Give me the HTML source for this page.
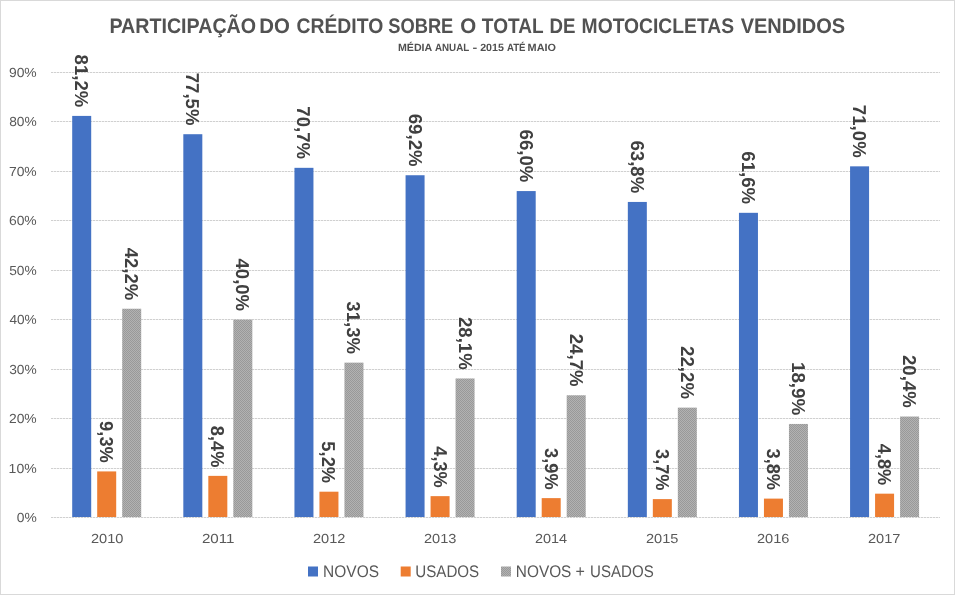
<!DOCTYPE html><html><head><meta charset="utf-8"><title>chart</title><style>
html,body{margin:0;padding:0;background:#fff;}body{width:955px;height:595px;overflow:hidden;}svg{display:block;font-family:"Liberation Sans",sans-serif;text-rendering:geometricPrecision;will-change:transform;}
</style></head><body>
<svg width="955" height="595" viewBox="0 0 955 595">
<defs><pattern id="chk" width="2" height="2" patternUnits="userSpaceOnUse"><rect width="2" height="2" fill="#b2b2b2"/><rect width="1" height="1" fill="#999"/><rect x="1" y="1" width="1" height="1" fill="#999"/></pattern></defs>
<rect x="0" y="0" width="955" height="595" fill="#fff"/>
<rect x="0.5" y="0.5" width="954" height="594" fill="none" stroke="#d9d9d9" stroke-width="1"/>
<rect x="51.0" y="517" width="889.0" height="1" fill="#f0f0f0"/>
<line x1="51.0" x2="940.0" y1="517.5" y2="517.5" stroke="#d0d0d0" stroke-width="1" stroke-dasharray="2 1" shape-rendering="crispEdges"/>
<rect x="51.0" y="468" width="889.0" height="1" fill="#f0f0f0"/>
<line x1="51.0" x2="940.0" y1="468.5" y2="468.5" stroke="#d0d0d0" stroke-width="1" stroke-dasharray="2 1" shape-rendering="crispEdges"/>
<rect x="51.0" y="418" width="889.0" height="1" fill="#f0f0f0"/>
<line x1="51.0" x2="940.0" y1="418.5" y2="418.5" stroke="#d0d0d0" stroke-width="1" stroke-dasharray="2 1" shape-rendering="crispEdges"/>
<rect x="51.0" y="369" width="889.0" height="1" fill="#f0f0f0"/>
<line x1="51.0" x2="940.0" y1="369.5" y2="369.5" stroke="#d0d0d0" stroke-width="1" stroke-dasharray="2 1" shape-rendering="crispEdges"/>
<rect x="51.0" y="319" width="889.0" height="1" fill="#f0f0f0"/>
<line x1="51.0" x2="940.0" y1="319.5" y2="319.5" stroke="#d0d0d0" stroke-width="1" stroke-dasharray="2 1" shape-rendering="crispEdges"/>
<rect x="51.0" y="270" width="889.0" height="1" fill="#f0f0f0"/>
<line x1="51.0" x2="940.0" y1="270.5" y2="270.5" stroke="#d0d0d0" stroke-width="1" stroke-dasharray="2 1" shape-rendering="crispEdges"/>
<rect x="51.0" y="220" width="889.0" height="1" fill="#f0f0f0"/>
<line x1="51.0" x2="940.0" y1="220.5" y2="220.5" stroke="#d0d0d0" stroke-width="1" stroke-dasharray="2 1" shape-rendering="crispEdges"/>
<rect x="51.0" y="171" width="889.0" height="1" fill="#f0f0f0"/>
<line x1="51.0" x2="940.0" y1="171.5" y2="171.5" stroke="#d0d0d0" stroke-width="1" stroke-dasharray="2 1" shape-rendering="crispEdges"/>
<rect x="51.0" y="121" width="889.0" height="1" fill="#f0f0f0"/>
<line x1="51.0" x2="940.0" y1="121.5" y2="121.5" stroke="#d0d0d0" stroke-width="1" stroke-dasharray="2 1" shape-rendering="crispEdges"/>
<rect x="51.0" y="72" width="889.0" height="1" fill="#f0f0f0"/>
<line x1="51.0" x2="940.0" y1="72.5" y2="72.5" stroke="#d0d0d0" stroke-width="1" stroke-dasharray="2 1" shape-rendering="crispEdges"/>
<rect x="72.20" y="115.91" width="19.0" height="401.09" fill="#4472c4"/>
<rect x="97.20" y="471.42" width="19.0" height="45.58" fill="#ed7d31"/>
<rect x="122.20" y="308.74" width="19.0" height="208.26" fill="url(#chk)"/>
<rect x="183.32" y="134.21" width="19.0" height="382.79" fill="#4472c4"/>
<rect x="208.32" y="475.87" width="19.0" height="41.13" fill="#ed7d31"/>
<rect x="233.32" y="319.62" width="19.0" height="197.38" fill="url(#chk)"/>
<rect x="294.45" y="167.83" width="19.0" height="349.17" fill="#4472c4"/>
<rect x="319.45" y="491.69" width="19.0" height="25.31" fill="#ed7d31"/>
<rect x="344.45" y="362.64" width="19.0" height="154.36" fill="url(#chk)"/>
<rect x="405.57" y="175.24" width="19.0" height="341.76" fill="#4472c4"/>
<rect x="430.57" y="496.14" width="19.0" height="20.86" fill="#ed7d31"/>
<rect x="455.57" y="378.46" width="19.0" height="138.54" fill="url(#chk)"/>
<rect x="516.70" y="191.07" width="19.0" height="325.93" fill="#4472c4"/>
<rect x="541.70" y="498.12" width="19.0" height="18.88" fill="#ed7d31"/>
<rect x="566.70" y="395.27" width="19.0" height="121.73" fill="url(#chk)"/>
<rect x="627.83" y="201.94" width="19.0" height="315.06" fill="#4472c4"/>
<rect x="652.83" y="499.11" width="19.0" height="17.89" fill="#ed7d31"/>
<rect x="677.83" y="407.63" width="19.0" height="109.37" fill="url(#chk)"/>
<rect x="738.95" y="212.82" width="19.0" height="304.18" fill="#4472c4"/>
<rect x="763.95" y="498.61" width="19.0" height="18.39" fill="#ed7d31"/>
<rect x="788.95" y="423.95" width="19.0" height="93.05" fill="url(#chk)"/>
<rect x="850.08" y="166.34" width="19.0" height="350.66" fill="#4472c4"/>
<rect x="875.08" y="493.67" width="19.0" height="23.33" fill="#ed7d31"/>
<rect x="900.08" y="416.53" width="19.0" height="100.47" fill="url(#chk)"/>
<text x="109.40" y="32.90" font-size="21.0" font-weight="bold" fill="#525252" textLength="146.73" lengthAdjust="spacingAndGlyphs">PARTICIPAÇÃO</text>
<text x="259.34" y="32.90" font-size="21.0" font-weight="bold" fill="#525252" textLength="30.58" lengthAdjust="spacingAndGlyphs">DO</text>
<text x="296.41" y="32.90" font-size="21.0" font-weight="bold" fill="#525252" textLength="86.80" lengthAdjust="spacingAndGlyphs">CRÉDITO</text>
<text x="388.25" y="32.90" font-size="21.0" font-weight="bold" fill="#525252" textLength="65.07" lengthAdjust="spacingAndGlyphs">SOBRE</text>
<text x="460.17" y="32.90" font-size="21.0" font-weight="bold" fill="#525252" textLength="15.96" lengthAdjust="spacingAndGlyphs">O</text>
<text x="481.87" y="32.90" font-size="21.0" font-weight="bold" fill="#525252" textLength="61.65" lengthAdjust="spacingAndGlyphs">TOTAL</text>
<text x="549.47" y="32.90" font-size="21.0" font-weight="bold" fill="#525252" textLength="25.97" lengthAdjust="spacingAndGlyphs">DE</text>
<text x="581.62" y="32.90" font-size="21.0" font-weight="bold" fill="#525252" textLength="152.42" lengthAdjust="spacingAndGlyphs">MOTOCICLETAS</text>
<text x="740.66" y="32.90" font-size="21.0" font-weight="bold" fill="#525252" textLength="104.53" lengthAdjust="spacingAndGlyphs">VENDIDOS</text>
<text x="397.94" y="51.10" font-size="10.5" font-weight="bold" fill="#505050" textLength="34.31" lengthAdjust="spacingAndGlyphs">MÉDIA</text>
<text x="434.97" y="51.10" font-size="10.5" font-weight="bold" fill="#505050" textLength="34.27" lengthAdjust="spacingAndGlyphs">ANUAL</text>
<text x="472.62" y="51.10" font-size="10.5" font-weight="bold" fill="#505050" textLength="4.76" lengthAdjust="spacingAndGlyphs">-</text>
<text x="480.15" y="51.10" font-size="10.5" font-weight="bold" fill="#505050" textLength="23.72" lengthAdjust="spacingAndGlyphs">2015</text>
<text x="506.97" y="51.10" font-size="10.5" font-weight="bold" fill="#505050" textLength="18.57" lengthAdjust="spacingAndGlyphs">ATÉ</text>
<text x="527.62" y="51.10" font-size="10.5" font-weight="bold" fill="#505050" textLength="28.41" lengthAdjust="spacingAndGlyphs">MAIO</text>
<text x="16.88" y="522.20" font-size="13.2" font-weight="normal" fill="#595959" textLength="20.02" lengthAdjust="spacingAndGlyphs">0%</text>
<text x="8.64" y="473.20" font-size="13.2" font-weight="normal" fill="#595959" textLength="28.10" lengthAdjust="spacingAndGlyphs">10%</text>
<text x="8.91" y="423.20" font-size="13.2" font-weight="normal" fill="#595959" textLength="27.82" lengthAdjust="spacingAndGlyphs">20%</text>
<text x="9.18" y="374.20" font-size="13.2" font-weight="normal" fill="#595959" textLength="27.55" lengthAdjust="spacingAndGlyphs">30%</text>
<text x="9.44" y="324.20" font-size="13.2" font-weight="normal" fill="#595959" textLength="27.28" lengthAdjust="spacingAndGlyphs">40%</text>
<text x="9.18" y="275.20" font-size="13.2" font-weight="normal" fill="#595959" textLength="27.55" lengthAdjust="spacingAndGlyphs">50%</text>
<text x="8.91" y="225.20" font-size="13.2" font-weight="normal" fill="#595959" textLength="27.82" lengthAdjust="spacingAndGlyphs">60%</text>
<text x="8.91" y="176.20" font-size="13.2" font-weight="normal" fill="#595959" textLength="27.82" lengthAdjust="spacingAndGlyphs">70%</text>
<text x="9.18" y="126.20" font-size="13.2" font-weight="normal" fill="#595959" textLength="27.55" lengthAdjust="spacingAndGlyphs">80%</text>
<text x="8.91" y="77.20" font-size="13.2" font-weight="normal" fill="#595959" textLength="27.82" lengthAdjust="spacingAndGlyphs">90%</text>
<text x="90.97" y="542.90" font-size="13.2" font-weight="normal" fill="#595959" textLength="32.49" lengthAdjust="spacingAndGlyphs">2010</text>
<text x="201.94" y="542.90" font-size="13.2" font-weight="normal" fill="#595959" textLength="32.56" lengthAdjust="spacingAndGlyphs">2011</text>
<text x="312.97" y="542.90" font-size="13.2" font-weight="normal" fill="#595959" textLength="32.49" lengthAdjust="spacingAndGlyphs">2012</text>
<text x="423.97" y="542.90" font-size="13.2" font-weight="normal" fill="#595959" textLength="32.49" lengthAdjust="spacingAndGlyphs">2013</text>
<text x="534.98" y="542.90" font-size="13.2" font-weight="normal" fill="#595959" textLength="32.20" lengthAdjust="spacingAndGlyphs">2014</text>
<text x="645.97" y="542.90" font-size="13.2" font-weight="normal" fill="#595959" textLength="32.49" lengthAdjust="spacingAndGlyphs">2015</text>
<text x="756.97" y="542.90" font-size="13.2" font-weight="normal" fill="#595959" textLength="32.49" lengthAdjust="spacingAndGlyphs">2016</text>
<text x="867.97" y="542.90" font-size="13.2" font-weight="normal" fill="#595959" textLength="32.49" lengthAdjust="spacingAndGlyphs">2017</text>
<text x="323.12" y="576.90" font-size="16.8" font-weight="normal" fill="#595959" textLength="55.89" lengthAdjust="spacingAndGlyphs">NOVOS</text>
<text x="415.27" y="576.90" font-size="16.8" font-weight="normal" fill="#595959" textLength="63.92" lengthAdjust="spacingAndGlyphs">USADOS</text>
<text x="515.82" y="576.90" font-size="16.8" font-weight="normal" fill="#595959" textLength="55.58" lengthAdjust="spacingAndGlyphs">NOVOS</text>
<text x="575.58" y="576.90" font-size="16.8" font-weight="normal" fill="#595959" textLength="9.40" lengthAdjust="spacingAndGlyphs">+</text>
<text x="590.08" y="576.90" font-size="16.8" font-weight="normal" fill="#595959" textLength="63.61" lengthAdjust="spacingAndGlyphs">USADOS</text>
<text transform="translate(75.20,54.61) rotate(90)" font-size="18.7" font-weight="bold" fill="#404040" textLength="52.69" lengthAdjust="spacingAndGlyphs">81,2%</text>
<text transform="translate(100.20,421.08) rotate(90)" font-size="18.7" font-weight="bold" fill="#404040" textLength="41.83" lengthAdjust="spacingAndGlyphs">9,3%</text>
<text transform="translate(125.20,247.70) rotate(90)" font-size="18.7" font-weight="bold" fill="#404040" textLength="52.44" lengthAdjust="spacingAndGlyphs">42,2%</text>
<text transform="translate(186.32,72.66) rotate(90)" font-size="18.7" font-weight="bold" fill="#404040" textLength="52.95" lengthAdjust="spacingAndGlyphs">77,5%</text>
<text transform="translate(211.32,425.78) rotate(90)" font-size="18.7" font-weight="bold" fill="#404040" textLength="41.58" lengthAdjust="spacingAndGlyphs">8,4%</text>
<text transform="translate(236.32,258.57) rotate(90)" font-size="18.7" font-weight="bold" fill="#404040" textLength="52.44" lengthAdjust="spacingAndGlyphs">40,0%</text>
<text transform="translate(297.45,106.28) rotate(90)" font-size="18.7" font-weight="bold" fill="#404040" textLength="52.95" lengthAdjust="spacingAndGlyphs">70,7%</text>
<text transform="translate(322.45,441.35) rotate(90)" font-size="18.7" font-weight="bold" fill="#404040" textLength="41.83" lengthAdjust="spacingAndGlyphs">5,2%</text>
<text transform="translate(347.45,301.34) rotate(90)" font-size="18.7" font-weight="bold" fill="#404040" textLength="52.69" lengthAdjust="spacingAndGlyphs">31,3%</text>
<text transform="translate(408.57,113.70) rotate(90)" font-size="18.7" font-weight="bold" fill="#404040" textLength="52.95" lengthAdjust="spacingAndGlyphs">69,2%</text>
<text transform="translate(433.57,446.30) rotate(90)" font-size="18.7" font-weight="bold" fill="#404040" textLength="41.33" lengthAdjust="spacingAndGlyphs">4,3%</text>
<text transform="translate(458.57,316.91) rotate(90)" font-size="18.7" font-weight="bold" fill="#404040" textLength="52.95" lengthAdjust="spacingAndGlyphs">28,1%</text>
<text transform="translate(519.70,129.52) rotate(90)" font-size="18.7" font-weight="bold" fill="#404040" textLength="52.95" lengthAdjust="spacingAndGlyphs">66,0%</text>
<text transform="translate(544.70,448.03) rotate(90)" font-size="18.7" font-weight="bold" fill="#404040" textLength="41.58" lengthAdjust="spacingAndGlyphs">3,9%</text>
<text transform="translate(569.70,333.72) rotate(90)" font-size="18.7" font-weight="bold" fill="#404040" textLength="52.95" lengthAdjust="spacingAndGlyphs">24,7%</text>
<text transform="translate(630.83,140.40) rotate(90)" font-size="18.7" font-weight="bold" fill="#404040" textLength="52.95" lengthAdjust="spacingAndGlyphs">63,8%</text>
<text transform="translate(655.83,449.02) rotate(90)" font-size="18.7" font-weight="bold" fill="#404040" textLength="41.58" lengthAdjust="spacingAndGlyphs">3,7%</text>
<text transform="translate(680.83,346.08) rotate(90)" font-size="18.7" font-weight="bold" fill="#404040" textLength="52.95" lengthAdjust="spacingAndGlyphs">22,2%</text>
<text transform="translate(741.95,151.27) rotate(90)" font-size="18.7" font-weight="bold" fill="#404040" textLength="52.95" lengthAdjust="spacingAndGlyphs">61,6%</text>
<text transform="translate(766.95,448.52) rotate(90)" font-size="18.7" font-weight="bold" fill="#404040" textLength="41.58" lengthAdjust="spacingAndGlyphs">3,8%</text>
<text transform="translate(791.95,361.89) rotate(90)" font-size="18.7" font-weight="bold" fill="#404040" textLength="53.47" lengthAdjust="spacingAndGlyphs">18,9%</text>
<text transform="translate(853.08,104.80) rotate(90)" font-size="18.7" font-weight="bold" fill="#404040" textLength="52.95" lengthAdjust="spacingAndGlyphs">71,0%</text>
<text transform="translate(878.08,443.82) rotate(90)" font-size="18.7" font-weight="bold" fill="#404040" textLength="41.33" lengthAdjust="spacingAndGlyphs">4,8%</text>
<text transform="translate(903.08,354.98) rotate(90)" font-size="18.7" font-weight="bold" fill="#404040" textLength="52.95" lengthAdjust="spacingAndGlyphs">20,4%</text>
<rect x="308" y="566.5" width="10" height="10" fill="#4472c4"/>
<rect x="400.7" y="566.5" width="10" height="10" fill="#ed7d31"/>
<rect x="501" y="566.5" width="10" height="10" fill="url(#chk)"/>
</svg></body></html>
